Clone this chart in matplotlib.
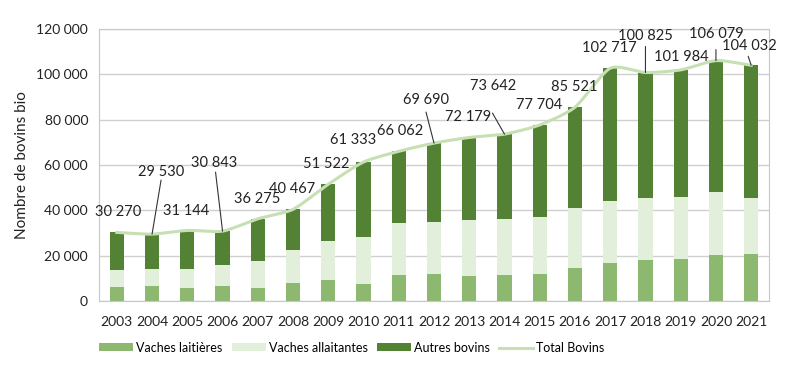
import matplotlib.pyplot as plt
import numpy as np

annees = [str(a) for a in range(2003, 2022)]
vaches_laitieres = [6300, 6600, 5900, 6600, 5900, 7800, 9100, 7500, 11500, 11800,
                    11000, 11500, 11800, 14700, 16800, 17900, 18700, 20300, 20900]
vaches_allaitantes = [7400, 7400, 8100, 9300, 11800, 14700, 17500, 20900, 23100, 23200,
                      24700, 24700, 25400, 26200, 27300, 27400, 27100, 27700, 24400]
total_bovins = [30270, 29530, 31144, 30843, 36275, 40467, 51522, 61333, 66062, 69690,
                72179, 73642, 77704, 85521, 102717, 100825, 101984, 106079, 104032]
autres_bovins = [t - l - a for t, l, a in zip(total_bovins, vaches_laitieres, vaches_allaitantes)]

# decalage (pixels) du centre de l'etiquette par rapport au haut de la barre
label_offsets = [(1, 20), (9, 62), (-1, 19), (-8, 68), (-1, 20), (-1, 20), (-2, 20), (-10, 22),
                 (1, 20), (-8, 43), (-1, 20), (-11, 48), (-1, 20), (-1, 20), (-1, 20),
                 (0, 37), (1, 13), (0, 27), (-2, 19)]
# traits de rappel : annee -> debut du trait (pixels)
leaders = {1: (9, 54), 3: (-7, 59), 9: (-8, 31), 11: (-12, 21),
           15: (0, 26), 17: (0, 11), 18: (-3, 9)}

c_lait = '#8cb870'
c_allait = '#e2efda'
c_autres = '#548235'
c_total = '#c6e0b4'

plt.rcParams['font.family'] = ['Lato', 'DejaVu Sans']

fig = plt.figure(figsize=(8, 3.68), dpi=100)
ax = fig.add_axes([0.124, 0.182, 0.837, 0.739])

x = np.arange(len(annees))
w = 0.4
b1 = ax.bar(x, vaches_laitieres, w, color=c_lait, label='Vaches laitières', zorder=2)
b2 = ax.bar(x, vaches_allaitantes, w, bottom=vaches_laitieres, color=c_allait,
            label='Vaches allaitantes', zorder=2)
bas = np.array(vaches_laitieres) + np.array(vaches_allaitantes)
b3 = ax.bar(x, autres_bovins, w, bottom=bas, color=c_autres, label='Autres bovins', zorder=2)


# courbe lissee (type Excel)
def lisser(xs, ys, n=20, k=0.7):
    xs = np.asarray(xs, float)
    ys = np.asarray(ys, float)
    px = np.concatenate([[2 * xs[0] - xs[1]], xs, [2 * xs[-1] - xs[-2]]])
    py = np.concatenate([[2 * ys[0] - ys[1]], ys, [2 * ys[-1] - ys[-2]]])
    ox, oy = [], []
    t = np.linspace(0, 1, n, endpoint=False)
    h00 = 2 * t ** 3 - 3 * t ** 2 + 1
    h10 = t ** 3 - 2 * t ** 2 + t
    h01 = -2 * t ** 3 + 3 * t ** 2
    h11 = t ** 3 - t ** 2
    for i in range(1, len(px) - 2):
        for p, out in ((px, ox), (py, oy)):
            m1 = k * (p[i + 1] - p[i - 1]) / 2
            m2 = k * (p[i + 2] - p[i]) / 2
            out.extend(h00 * p[i] + h10 * m1 + h01 * p[i + 1] + h11 * m2)
    ox.append(xs[-1])
    oy.append(ys[-1])
    return ox, oy


sx, sy = lisser(x, total_bovins)
l1, = ax.plot(sx, sy, color=c_total, lw=2.2, zorder=3, label='Total Bovins')

for i, v in enumerate(total_bovins):
    txt = f'{v:,}'.replace(',', ' ')
    dx, dy = label_offsets[i]
    ax.annotate(txt, (i, v), xytext=(dx, dy), textcoords='offset pixels', ha='center',
                va='center', fontsize=10.5, color='#222222', zorder=4)
    if i in leaders:
        ax.annotate('', (i, v), xytext=leaders[i], textcoords='offset pixels',
                    arrowprops=dict(arrowstyle='-', color='#333333', lw=0.8,
                                    shrinkA=0, shrinkB=0), zorder=4)

ax.set_xlim(-0.5, len(annees) - 0.5)
ax.set_ylim(0, 120000)
ax.set_yticks(range(0, 120001, 20000))
ax.set_yticklabels([f'{v:,}'.replace(',', ' ') for v in range(0, 120001, 20000)])
ax.set_xticks(x)
ax.set_xticklabels(annees)
ax.tick_params(axis='y', length=0, labelsize=10, colors='#222222', pad=8)
ax.tick_params(axis='x', length=0, labelsize=10, colors='#222222', pad=11)
ax.grid(axis='y', color='#d0d0d0', lw=1, zorder=0)
for s in ax.spines.values():
    s.set_color('#c8c8c8')
ax.set_ylabel('Nombre de bovins bio', fontsize=11, color='#222222', labelpad=5)

fig.legend([b1, b2, b3, l1], ['Vaches laitières', 'Vaches allaitantes', 'Autres bovins', 'Total Bovins'],
           loc='center left', bbox_to_anchor=(0.11, 0.055), ncol=4, frameon=False,
           fontsize=9, handlelength=2.7, handleheight=0.6, columnspacing=0.75, handletextpad=0.25)

fig.savefig('out.png', dpi=100)
